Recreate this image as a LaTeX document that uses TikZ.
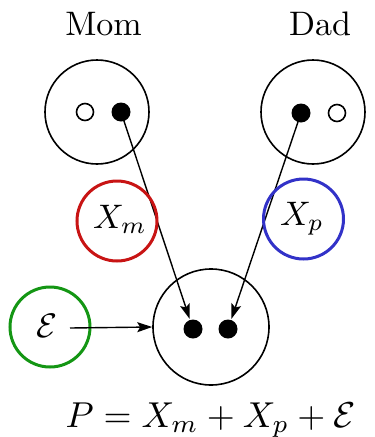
\documentclass[tikz,border=0pt]{standalone}
\usetikzlibrary{arrows.meta}
\definecolor{myred}{RGB}{200,20,20}
\definecolor{myblue}{RGB}{50,50,200}
\definecolor{mygreen}{RGB}{20,150,20}
\begin{document}
\begin{tikzpicture}[x=1pt,y=-1pt,
  big/.style={circle,draw=black,line width=1.6pt,inner sep=0pt,minimum size=#1},
  gene/.style={circle,draw=#1,line width=3pt,inner sep=0pt,minimum size=80pt},
  fdot/.style={circle,fill=black,inner sep=0pt,minimum size=19pt},
  odot/.style={circle,draw=black,line width=1.6pt,fill=white,inner sep=0pt,minimum size=17pt},
  lab/.style={scale=3.4,inner sep=0pt},
  arr/.style={line width=1.4pt,-{Stealth[length=15pt,width=10pt,inset=3pt]}}]
\useasboundingbox (0,0) rectangle (375,437);
% parents
\node[big=104pt] (mom) at (97,112) {};
\node[big=104pt] (dad) at (313,112) {};
\node[lab,anchor=base] (momt) at (103.5,35) {Mom};
\node[lab,anchor=base] (dadt) at (320,35) {Dad};
% child
\node[big=116pt] (child) at (211,327) {};
% arrows
\coordinate (mfc) at (121,112);
\coordinate (dfc) at (301,113);
\node[fdot] (cl) at (193,329) {};
\node[fdot] (cr) at (228,329) {};
\draw[arr,shorten >=1pt] (mfc) -- (cl);
\draw[arr,shorten >=1pt] (dfc) -- (cr);
% dots in parents
\node[odot] (mo) at (85,112) {};
\node[fdot] (mf) at (mfc) {};
\node[fdot] (df) at (dfc) {};
\node[odot] (do) at (337,113) {};
% gene circles
\node[gene=myred] (xm) at (117,221) {};
\node[lab] (xmt) at (120,219) {$X_m$};
\node[gene=myblue] (xp) at (303.5,219) {};
\node[lab] (xpt) at (302,219) {$X_p$};
\node[gene=mygreen] (eps) at (50,327) {};
\node[lab] (epst) at (47,326) {$\mathcal{E}$};
\coordinate (es) at (70,328);
\draw[arr] (es) -- (child.west);
% equation
\node[scale=3.6,inner sep=0pt,anchor=base] (eq) at (210.5,427) {$P = X_m + X_p + \mathcal{E}$};
\end{tikzpicture}
\end{document}
